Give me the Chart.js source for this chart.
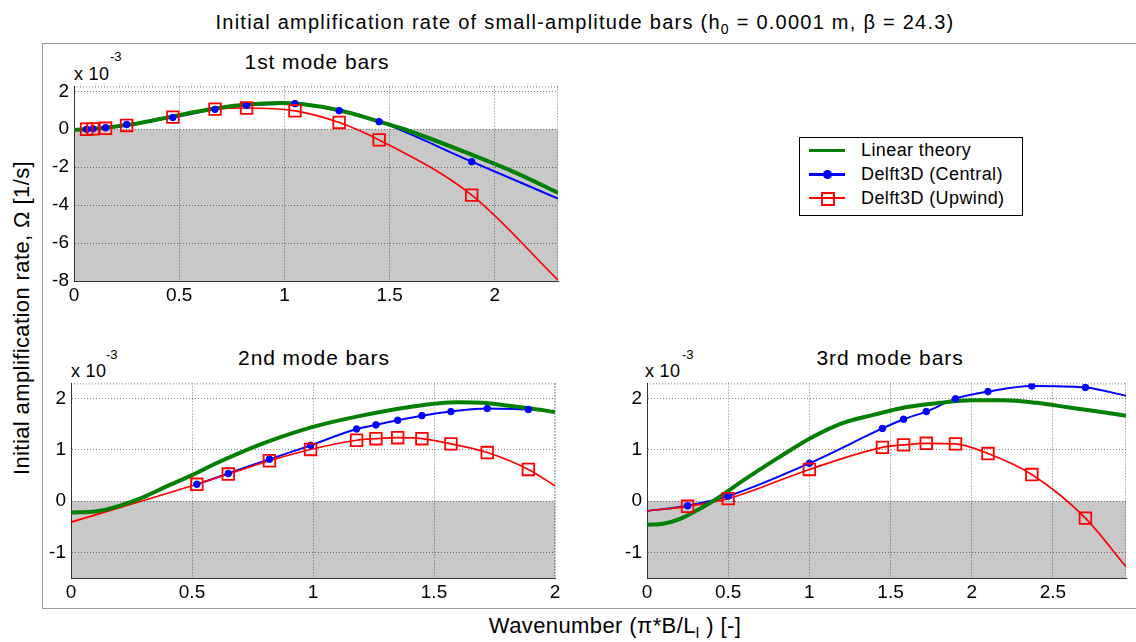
<!DOCTYPE html>
<html>
<head>
<meta charset="utf-8">
<script src="https://cdn.jsdelivr.net/npm/chart.js@4/dist/chart.umd.min.js"></script>
<style>
  body { margin: 0; width: 1136px; height: 642px; background: #fff; position: relative; overflow: hidden;
         font-family: "Liberation Sans", Arial, sans-serif; color: #000; }
  canvas { position: absolute; }
  .txt { position: absolute; white-space: nowrap; line-height: 1; }
  .mid { transform: translate(-50%, -50%); }
  #frame { position: absolute; left: 42px; top: 43px; width: 1200px; height: 564px;
           border: 1px solid #9a9a9a; }
  #title { left: 585px; top: 22px; font-size: 20px; letter-spacing: 1.25px; }
  #ylabel { left: 22px; top: 318px; font-size: 22px; letter-spacing: 0.4px;
            transform: translate(-50%, -50%) rotate(-90deg); }
  #xlabel { left: 615px; top: 626px; font-size: 22px; letter-spacing: 0.4px; }
  .sub { font-size: 21px; letter-spacing: 0.9px; }
  .mult { font-size: 18px; letter-spacing: 0.3px; }
  .exp { font-size: 13px; }
  sub { font-size: 0.7em; vertical-align: -0.35em; line-height: 0; }
  #legend { position: absolute; left: 799px; top: 137px; width: 222px; height: 77px;
            border: 1px solid #000; background: #fff; font-size: 18px; letter-spacing: 0.4px; }
  .row { position: absolute; left: 0; height: 20px; }
  .row span.t { position: absolute; left: 61px; top: 0; white-space: nowrap; line-height: 20px; }
  .row .ln { position: absolute; left: 9px; width: 36px; top: 9px; }
</style>
</head>
<body>
<div id="frame"></div>

<div class="txt mid" id="title">Initial amplification rate of small-amplitude bars (h<sub>0</sub> = 0.0001 m, β = 24.3)</div>
<div class="txt" id="ylabel">Initial amplification rate, Ω [1/s]</div>
<div class="txt mid" id="xlabel">Wavenumber (π*B/L<sub>l</sub> ) [-]</div>

<div class="txt mid sub" style="left:317px; top:61px;">1st mode bars</div>
<div class="txt mid sub" style="left:314px; top:357px;">2nd mode bars</div>
<div class="txt mid sub" style="left:890px; top:357px;">3rd mode bars</div>

<div class="txt mult" style="left:74px; top:65px;">x 10</div>
<div class="txt exp" style="left:110px; top:50px;">-3</div>
<div class="txt mult" style="left:71px; top:362px;">x 10</div>
<div class="txt exp" style="left:106px; top:348px;">-3</div>
<div class="txt mult" style="left:645px; top:362px;">x 10</div>
<div class="txt exp" style="left:682px; top:348px;">-3</div>

<canvas id="mode1" width="548" height="241" style="left:20px; top:70px;"></canvas>
<canvas id="mode2" width="545" height="241" style="left:20px; top:367px;"></canvas>
<canvas id="mode3" width="536" height="241" style="left:600px; top:367px;"></canvas>

<div id="legend">
  <div class="row" style="top:2px;">
    <div class="ln" style="height:3px; background:#008000;"></div>
    <span class="t">Linear theory</span>
  </div>
  <div class="row" style="top:26px;">
    <div class="ln" style="height:3px; background:#0000ff;"></div>
    <div style="position:absolute; left:23px; top:6px; width:9px; height:9px; border-radius:50%; background:#0000ff;"></div>
    <span class="t">Delft3D (Central)</span>
  </div>
  <div class="row" style="top:50px;">
    <div class="ln" style="height:2px; background:#ff0000;"></div>
    <div style="position:absolute; left:21px; top:4px; width:10px; height:10px; border:2px solid #ff0000;"></div>
    <span class="t">Delft3D (Upwind)</span>
  </div>
</div>

<script>
// growth rates in units of 1e-3 1/s, wavenumber pi*B/L

// 1st mode
const m1TheoryX = [0, 0.1, 0.2, 0.3, 0.47, 0.67, 0.82, 0.98, 1.09, 1.26, 1.45, 1.57, 1.88, 2.1, 2.3];
const m1TheoryY = [-0.03, 0.04, 0.15, 0.3, 0.68, 1.09, 1.3, 1.38, 1.32, 1.0, 0.41, 0.0, -1.3, -2.3, -3.35];
const m1X = [0.06, 0.09, 0.15, 0.25, 0.47, 0.67, 0.82, 1.05, 1.26, 1.45, 1.89];
const m1Central = [0.0, 0.03, 0.08, 0.25, 0.62, 1.05, 1.26, 1.35, 0.98, 0.4, -1.71];
const m1Upwind = [0.0, 0.02, 0.05, 0.2, 0.64, 1.06, 1.12, 0.97, 0.36, -0.56, -3.47];
const m1CentralTailX = [2.3], m1CentralTailY = [-3.65];
const m1UpwindTailX = [2.3], m1UpwindTailY = [-7.95];

// 2nd mode
const m2TheoryX = [0, 0.1, 0.2, 0.3, 0.4, 0.5, 0.6, 0.7, 0.8, 1.0, 1.2, 1.4, 1.6, 1.7, 1.8, 1.9, 2.0];
const m2TheoryY = [-0.22, -0.2, -0.09, 0.08, 0.3, 0.51, 0.74, 0.95, 1.14, 1.45, 1.67, 1.84, 1.93, 1.92, 1.87, 1.81, 1.74];
const m2X = [0.52, 0.65, 0.82, 0.99, 1.18, 1.26, 1.35, 1.45, 1.57, 1.72, 1.89];
const m2Central = [0.33, 0.54, 0.82, 1.09, 1.41, 1.49, 1.58, 1.67, 1.75, 1.81, 1.79];
const m2Upwind = [0.33, 0.53, 0.79, 1.01, 1.19, 1.22, 1.24, 1.22, 1.12, 0.95, 0.62];
const m2CentralTailX = [], m2CentralTailY = [];
const m2UpwindTailX = [0, 2.0], m2UpwindTailY = [-0.41, 0.3];

// 3rd mode
const m3TheoryX = [0, 0.1, 0.2, 0.3, 0.4, 0.5, 0.6, 0.8, 1.0, 1.2, 1.4, 1.6, 1.8, 2.0, 2.2, 2.4, 2.6, 2.8, 2.95];
const m3TheoryY = [-0.46, -0.44, -0.35, -0.19, -0.01, 0.2, 0.42, 0.83, 1.22, 1.52, 1.69, 1.84, 1.92, 1.97, 1.97, 1.92, 1.83, 1.74, 1.67];
const m3X = [0.25, 0.5, 1.0, 1.45, 1.58, 1.72, 1.9, 2.1, 2.37, 2.7];
const m3Central = [-0.09, 0.1, 0.74, 1.42, 1.6, 1.75, 2.0, 2.14, 2.25, 2.22];
const m3Upwind = [-0.1, 0.05, 0.62, 1.05, 1.1, 1.13, 1.12, 0.93, 0.52, -0.33];
const m3CentralTailX = [0, 2.95], m3CentralTailY = [-0.19, 2.06];
const m3UpwindTailX = [0, 2.95], m3UpwindTailY = [-0.19, -1.28];

// axis ticks
const xTicks1 = [0, 0.5, 1, 1.5, 2];
const yTicks1 = [-8, -6, -4, -2, 0, 2];
const xTicks2 = [0, 0.5, 1, 1.5, 2];
const xTicks3 = [0, 0.5, 1, 1.5, 2, 2.5];
const yTicks23 = [-1, 0, 1, 2];

const FONT = '"Liberation Sans", Arial, sans-serif';

function points(xs, ys) {
  return xs.map((x, i) => ({ x: x, y: ys[i] }));
}
function withTail(xs, ys, tx, ty) {
  return points(xs, ys).concat(points(tx, ty)).sort((a, b) => a.x - b.x);
}

// grey below zero + dotted top/right box edges
const shade = {
  id: 'shade',
  beforeDraw(chart) {
    const { ctx, chartArea: a, scales } = chart;
    const y0 = scales.y.getPixelForValue(0);
    ctx.save();
    ctx.fillStyle = '#c8c8c8';
    ctx.fillRect(a.left, y0, a.right - a.left, a.bottom - y0);
    ctx.restore();
  },
  beforeDatasetsDraw(chart) {
    const { ctx, chartArea: a } = chart;
    ctx.save();
    ctx.strokeStyle = 'rgba(0,0,0,0.5)';
    ctx.lineWidth = 1;
    ctx.setLineDash([1, 2]);
    ctx.beginPath();
    ctx.moveTo(a.left, a.top + 0.5);
    ctx.lineTo(a.right, a.top + 0.5);
    ctx.moveTo(a.right - 0.5, a.top);
    ctx.lineTo(a.right - 0.5, a.bottom);
    ctx.stroke();
    ctx.restore();
  }
};

function makeChart(id, theory, central, upwind, centralLine, upwindLine, sc) {
  const grid = { color: 'rgba(0,0,0,0.5)', lineWidth: 1, drawTicks: false };
  const border = { display: true, color: '#333', width: 1, dash: [1, 2] };
  const tickFont = { family: FONT, size: 19 };
  return new Chart(document.getElementById(id), {
    type: 'line',
    data: {
      datasets: [
        { data: upwind, showLine: false, pointStyle: 'rect', pointRadius: 8.2, pointBorderWidth: 1.8,
          pointBorderColor: '#ff0000', pointBackgroundColor: 'rgba(0,0,0,0)', order: 0 },
        { data: central, showLine: false, pointStyle: 'circle', pointRadius: 3.3, pointBorderWidth: 1,
          pointBorderColor: '#0000ff', pointBackgroundColor: '#0000ff', order: 1 },
        { data: theory, borderColor: '#008000', borderWidth: 4, pointRadius: 0,
          cubicInterpolationMode: 'monotone', order: 2 },
        { data: upwindLine, borderColor: '#ff0000', borderWidth: 1.7, pointRadius: 0,
          cubicInterpolationMode: 'monotone', order: 3 },
        { data: centralLine, borderColor: '#0000ff', borderWidth: 2, pointRadius: 0,
          cubicInterpolationMode: 'monotone', order: 4 }
      ]
    },
    options: {
      responsive: false,
      animation: false,
      layout: { padding: { top: 14, right: sc.padRight, bottom: 0, left: 0 } },
      plugins: { legend: { display: false }, tooltip: { enabled: false } },
      scales: {
        x: {
          type: 'linear', min: sc.xMin, max: sc.xMax,
          grid: grid, border: border,
          afterBuildTicks: s => { s.ticks = sc.xTicks.map(v => ({ value: v })); },
          afterFit: s => { s.height = 30; },
          ticks: { font: tickFont, color: '#000', padding: 3, maxRotation: 0, callback: v => String(v) }
        },
        y: {
          type: 'linear', min: sc.yMin, max: sc.yMax,
          grid: grid, border: border,
          afterBuildTicks: s => { s.ticks = sc.yTicks.map(v => ({ value: v })); },
          afterFit: s => { s.width = sc.yWidth; },
          ticks: { font: tickFont, color: '#000', padding: 5, callback: v => String(v) }
        }
      }
    },
    plugins: [shade]
  });
}

makeChart('mode1',
  points(m1TheoryX, m1TheoryY),
  points(m1X, m1Central),
  points(m1X, m1Upwind),
  withTail(m1X, m1Central, m1CentralTailX, m1CentralTailY),
  withTail(m1X, m1Upwind, m1UpwindTailX, m1UpwindTailY),
  { xMin: 0, xMax: 2.3, xTicks: xTicks1, yMin: -8, yMax: 2.26, yTicks: yTicks1, yWidth: 54, padRight: 8 });

makeChart('mode2',
  points(m2TheoryX, m2TheoryY),
  points(m2X, m2Central),
  points(m2X, m2Upwind),
  withTail(m2X, m2Central, m2CentralTailX, m2CentralTailY),
  withTail(m2X, m2Upwind, m2UpwindTailX, m2UpwindTailY),
  { xMin: 0, xMax: 2, xTicks: xTicks2, yMin: -1.5, yMax: 2.3, yTicks: yTicks23, yWidth: 51, padRight: 8 });

makeChart('mode3',
  points(m3TheoryX, m3TheoryY),
  points(m3X, m3Central),
  points(m3X, m3Upwind),
  withTail(m3X, m3Central, m3CentralTailX, m3CentralTailY),
  withTail(m3X, m3Upwind, m3UpwindTailX, m3UpwindTailY),
  { xMin: 0, xMax: 2.95, xTicks: xTicks3, yMin: -1.5, yMax: 2.3, yTicks: yTicks23, yWidth: 47, padRight: 2 });
</script>
</body>
</html>
